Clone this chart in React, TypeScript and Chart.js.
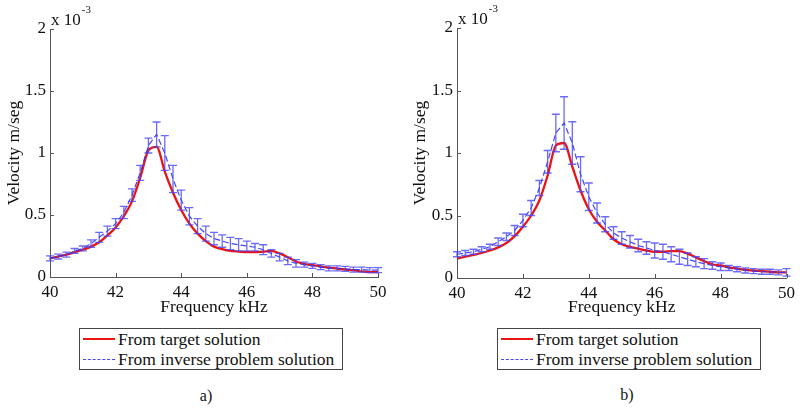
import React, { useEffect, useRef } from "react";
import { Chart, registerables } from "chart.js";

Chart.register(...registerables);

// Frequency (kHz)
const FREQ = [
  40, 40.25, 40.5, 40.75, 41, 41.25, 41.5, 41.75, 42, 42.25, 42.5, 42.75, 43, 43.25, 43.5, 43.75,
  44, 44.25, 44.5, 44.75, 45, 45.25, 45.5, 45.75, 46, 46.25, 46.5, 46.75, 47, 47.25, 47.5, 47.75,
  48, 48.25, 48.5, 48.75, 49, 49.25, 49.5, 49.75, 50,
];

// Velocity values in units of 1e-3 m/seg
const TARGET_A = [
  0.15, 0.165, 0.18, 0.2, 0.22, 0.245, 0.28, 0.335, 0.4, 0.49, 0.61, 0.8, 1.02, 1.05, 0.85, 0.68,
  0.54, 0.43, 0.35, 0.29, 0.245, 0.225, 0.21, 0.205, 0.2, 0.2, 0.205, 0.21, 0.19, 0.16, 0.125, 0.105,
  0.095, 0.085, 0.075, 0.068, 0.06, 0.055, 0.045, 0.04, 0.04,
];
const INVERSE_A = [
  0.15, 0.165, 0.18, 0.21, 0.23, 0.27, 0.32, 0.37, 0.43, 0.52, 0.66, 0.84, 1.06, 1.15, 1.0, 0.79,
  0.62, 0.49, 0.41, 0.35, 0.31, 0.29, 0.27, 0.26, 0.25, 0.24, 0.22, 0.19, 0.16, 0.13, 0.11, 0.1,
  0.09, 0.08, 0.07, 0.07, 0.065, 0.06, 0.06, 0.055, 0.055,
];
const ERROR_A = [
  0.02, 0.02, 0.02, 0.02, 0.02, 0.03, 0.04, 0.04, 0.04, 0.05, 0.05, 0.06, 0.06, 0.1, 0.14, 0.11,
  0.08, 0.07, 0.06, 0.06, 0.05, 0.05, 0.05, 0.05, 0.04, 0.03, 0.04, 0.03, 0.03, 0.03, 0.03, 0.02,
  0.02, 0.02, 0.02, 0.02, 0.02, 0.02, 0.02, 0.02, 0.02,
];

const TARGET_B = [
  0.155, 0.17, 0.185, 0.2, 0.22, 0.245, 0.28, 0.335, 0.41, 0.5, 0.62, 0.82, 1.06, 1.08, 0.89, 0.7,
  0.55, 0.45, 0.38, 0.31, 0.27, 0.25, 0.235, 0.22, 0.21, 0.21, 0.215, 0.215, 0.195, 0.165, 0.135, 0.11,
  0.1, 0.085, 0.075, 0.065, 0.06, 0.055, 0.05, 0.045, 0.045,
];
const INVERSE_B = [
  0.19, 0.2, 0.21, 0.23, 0.25, 0.29, 0.33, 0.38, 0.46, 0.56, 0.72, 0.93, 1.16, 1.24, 1.08, 0.83,
  0.65, 0.52, 0.43, 0.36, 0.32, 0.29, 0.26, 0.24, 0.22, 0.21, 0.19, 0.17, 0.15, 0.13, 0.115, 0.1,
  0.09, 0.08, 0.07, 0.06, 0.055, 0.05, 0.05, 0.045, 0.045,
];
const ERROR_B = [
  0.02, 0.02, 0.02, 0.02, 0.02, 0.03, 0.03, 0.04, 0.05, 0.06, 0.06, 0.09, 0.15, 0.21, 0.17, 0.14,
  0.11, 0.08, 0.06, 0.05, 0.05, 0.05, 0.05, 0.05, 0.06, 0.06, 0.06, 0.06, 0.05, 0.04, 0.04, 0.03,
  0.03, 0.02, 0.02, 0.02, 0.02, 0.02, 0.02, 0.02, 0.03,
];

const X_TICKS = [40, 42, 44, 46, 48, 50];
const Y_TICKS = [0, 0.5, 1, 1.5, 2];
const SERIES_LABELS = ["From target solution", "From inverse problem solution"];
const X_TITLE = "Frequency kHz";
const Y_TITLE = "Velocity m/seg";

const SERIF = '"Liberation Serif", "Times New Roman", serif';
const RED = "rgb(235,20,20)";
const BLUE = "rgba(50,50,245,0.9)";
const BAR_BLUE = "rgba(70,70,245,0.8)";
const AXIS = "#555";

type PanelProps = {
  left: number;
  width: number;
  height: number;
  area: { left: number; right: number; top: number; bottom: number };
  target: number[];
  inverse: number[];
  errors: number[];
  yTitlePad: number;
};

function Panel({ left, width, height, area, target, inverse, errors, yTitlePad }: PanelProps) {
  const ref = useRef<HTMLCanvasElement | null>(null);

  useEffect(() => {
    if (!ref.current) return;

    const errorBars = {
      id: "errorBars",
      afterDatasetDraw(chart: any, args: any) {
        if (args.index !== 0) return;
        const { ctx } = chart;
        const xs = chart.scales.x;
        const ys = chart.scales.y;
        ctx.save();
        ctx.strokeStyle = BAR_BLUE;
        ctx.lineWidth = 1.3;
        for (let i = 0; i < FREQ.length; i++) {
          const px = xs.getPixelForValue(FREQ[i]);
          const y1 = ys.getPixelForValue(inverse[i] - errors[i]);
          const y2 = ys.getPixelForValue(inverse[i] + errors[i]);
          ctx.beginPath();
          ctx.moveTo(px, y1);
          ctx.lineTo(px, y2);
          ctx.moveTo(px - 4, y1);
          ctx.lineTo(px + 4, y1);
          ctx.moveTo(px - 4, y2);
          ctx.lineTo(px + 4, y2);
          ctx.stroke();
        }
        ctx.restore();
      },
    };

    const axisDecor = {
      id: "axisDecor",
      afterDraw(chart: any) {
        const { ctx, chartArea } = chart;
        const xs = chart.scales.x;
        const ys = chart.scales.y;
        ctx.save();
        ctx.strokeStyle = AXIS;
        ctx.lineWidth = 1;
        ctx.beginPath();
        X_TICKS.forEach((t) => {
          const px = Math.round(xs.getPixelForValue(t)) + 0.5;
          ctx.moveTo(px, chartArea.bottom);
          ctx.lineTo(px, chartArea.bottom - 4);
        });
        Y_TICKS.forEach((t) => {
          const py = Math.round(ys.getPixelForValue(t)) + 0.5;
          ctx.moveTo(chartArea.left, py);
          ctx.lineTo(chartArea.left + 4, py);
        });
        ctx.stroke();
        // exponent label
        ctx.fillStyle = "#111";
        ctx.textBaseline = "alphabetic";
        ctx.textAlign = "left";
        ctx.font = `17px ${SERIF}`;
        ctx.fillText("x 10", chartArea.left + 1, chartArea.top - 4);
        const w = ctx.measureText("x 10").width;
        ctx.font = `11px ${SERIF}`;
        ctx.fillText("-3", chartArea.left + 2 + w, chartArea.top - 16);
        ctx.restore();
      },
    };

    const chart = new Chart(ref.current, {
      type: "line",
      data: {
        datasets: [
          {
            label: SERIES_LABELS[1],
            data: FREQ.map((f, i) => ({ x: f, y: inverse[i] })),
            borderColor: BLUE,
            borderWidth: 1.2,
            borderDash: [6, 3],
            pointRadius: 0,
            tension: 0,
          },
          {
            label: SERIES_LABELS[0],
            data: FREQ.map((f, i) => ({ x: f, y: target[i] })),
            borderColor: RED,
            borderWidth: 2.3,
            pointRadius: 0,
            cubicInterpolationMode: "monotone",
          },
        ],
      },
      options: {
        animation: false,
        responsive: false,
        maintainAspectRatio: false,
        layout: {
          padding: { left: 0, top: area.top, right: width - area.right, bottom: 0 },
        },
        plugins: { legend: { display: false }, tooltip: { enabled: false } },
        scales: {
          x: {
            type: "linear",
            min: 40,
            max: 50,
            afterBuildTicks: (s: any) => {
              s.ticks = X_TICKS.map((v) => ({ value: v }));
            },
            afterFit: (s: any) => {
              s.height = height - area.bottom;
            },
            grid: { display: false, drawTicks: false },
            border: { display: true, color: AXIS, width: 1 },
            ticks: {
              color: "#111",
              font: { family: SERIF, size: 17 },
              padding: 5,
              maxRotation: 0,
              callback: (v: any) => String(v),
            },
            title: {
              display: true,
              text: X_TITLE,
              color: "#111",
              font: { family: SERIF, size: 17.5 },
              padding: { top: 0, bottom: 4 },
            },
          },
          y: {
            type: "linear",
            min: 0,
            max: 2,
            afterBuildTicks: (s: any) => {
              s.ticks = Y_TICKS.map((v) => ({ value: v }));
            },
            afterFit: (s: any) => {
              s.width = area.left;
            },
            grid: { display: false, drawTicks: false },
            border: { display: true, color: AXIS, width: 1 },
            ticks: {
              color: "#111",
              font: { family: SERIF, size: 17 },
              padding: 4,
              callback: (v: any) => String(v),
            },
            title: {
              display: true,
              text: Y_TITLE,
              color: "#111",
              font: { family: SERIF, size: 17.5 },
              padding: { top: yTitlePad, bottom: 0 },
            },
          },
        },
      },
      plugins: [errorBars, axisDecor],
    } as any);

    return () => chart.destroy();
  }, []);

  return (
    <canvas
      ref={ref}
      width={width}
      height={height}
      style={{ position: "absolute", left, top: 0, width, height }}
    />
  );
}

function Legend({ left, top }: { left: number; top: number }) {
  const row: React.CSSProperties = {
    display: "flex",
    alignItems: "center",
    height: 20,
    whiteSpace: "nowrap",
  };
  return (
    <div
      style={{
        position: "absolute",
        left,
        top,
        width: 262,
        height: 40,
        border: "1px solid #444",
        fontFamily: SERIF,
        fontSize: 17.5,
        color: "#111",
        lineHeight: "20px",
        background: "#fff",
      }}
    >
      <div style={row}>
        <span style={{ display: "inline-block", width: 32, marginLeft: 3, marginRight: 3, borderTop: `2px solid ${RED}` }} />
        <span>{SERIES_LABELS[0]}</span>
      </div>
      <div style={row}>
        <span style={{ display: "inline-block", width: 32, marginLeft: 3, marginRight: 3, borderTop: `1.5px dashed ${BLUE}` }} />
        <span>{SERIES_LABELS[1]}</span>
      </div>
    </div>
  );
}

export default function App() {
  return (
    <div
      style={{
        position: "absolute",
        left: 0,
        top: 0,
        width: 800,
        height: 411,
        background: "#fff",
        overflow: "hidden",
      }}
    >
      <Panel
        left={0}
        width={400}
        height={322}
        area={{ left: 50, right: 378, top: 29, bottom: 277 }}
        target={TARGET_A}
        inverse={INVERSE_A}
        errors={ERROR_A}
        yTitlePad={4}
      />
      <Panel
        left={400}
        width={400}
        height={322}
        area={{ left: 57, right: 387, top: 28, bottom: 278 }}
        target={TARGET_B}
        inverse={INVERSE_B}
        errors={ERROR_B}
        yTitlePad={10}
      />
      <Legend left={79} top={328} />
      <Legend left={497} top={328} />
      <div style={{ position: "absolute", left: 196, top: 387, width: 20, textAlign: "center", fontFamily: SERIF, fontSize: 16, color: "#111" }}>a)</div>
      <div style={{ position: "absolute", left: 617, top: 386, width: 20, textAlign: "center", fontFamily: SERIF, fontSize: 16, color: "#111" }}>b)</div>
    </div>
  );
}
